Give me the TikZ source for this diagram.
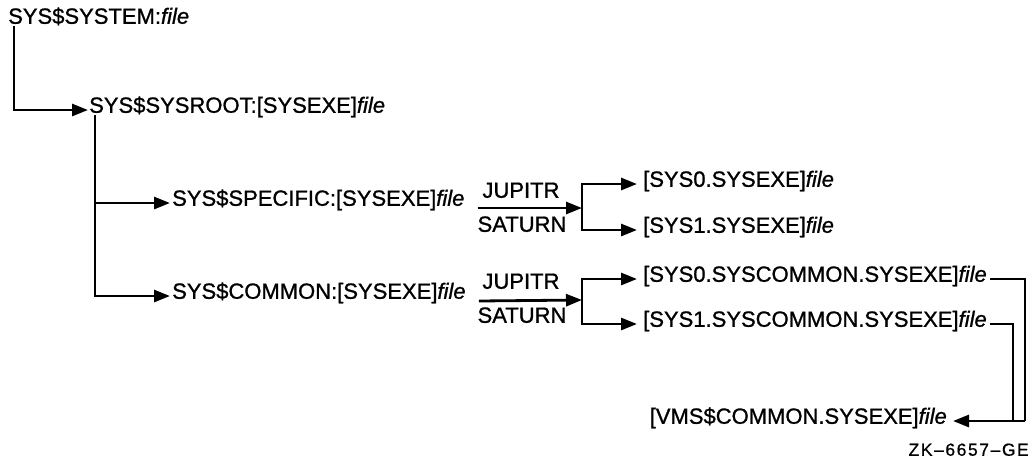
\documentclass[tikz,border=0pt]{standalone}
\usepackage{fontspec}
\setmainfont{Liberation Sans}[FakeBold=1]
\newfontfamily\tagfont{Liberation Sans}[LetterSpace=9,FakeBold=0.6]
\usetikzlibrary{arrows.meta}

\begin{document}
\begin{tikzpicture}[x=1pt,y=-1pt,
  every node/.style={inner sep=0pt, font=\fontsize{22}{26}\selectfont,
                     text height=0.75em, text depth=0.2em},
  wire/.style={line width=2.8pt},
  arr/.style={wire, -{Triangle[length=16pt 0,width=12pt 0]}},
  tag/.style={font=\tagfont\fontsize{17.5}{22}\selectfont}]
\useasboundingbox[fill=white] (0,0) rectangle (1028,467);

% logical names and the directories they translate to
\node[anchor=west] (sys)      at (8,21)    {SYS\$SYSTEM:\textit{file}};
\node[anchor=west] (sysroot)  at (89,110)  {SYS\$SYSROOT:[SYSEXE]\textit{file}};
\node[anchor=west] (specific) at (172,203) {SYS\$SPECIFIC:[SYSEXE]\textit{file}};
\node[anchor=west] (common)   at (172,296) {SYS\$COMMON:[SYSEXE]\textit{file}};

\node[anchor=west] (spec0) at (643,184) {[SYS0.SYSEXE]\textit{file}};
\node[anchor=west] (spec1) at (643,230) {[SYS1.SYSEXE]\textit{file}};
\node[anchor=west] (com0)  at (643,279) {[SYS0.SYSCOMMON.SYSEXE]\textit{file}};
\node[anchor=west] (com1)  at (643,324) {[SYS1.SYSCOMMON.SYSEXE]\textit{file}};
\node[anchor=east] (vms)   at (947,421) {[VMS\$COMMON.SYSEXE]\textit{file}};

% node names on the forks
\node (jup1) at (521,195) {JUPITR};
\node (sat1) at (522,229) {SATURN};
\node (jup2) at (521,286) {JUPITR};
\node (sat2) at (522,320) {SATURN};

\node[tag, anchor=east] (zk) at (1029,453) {ZK{\char"2013}6657{\char"2013}GE};

% helper points
\coordinate (trunkA) at ([xshift=6pt]sys.south west);
\coordinate (trunkB) at ([xshift=6pt]sysroot.south west);
\coordinate (fork1) at (582,208);
\coordinate (fork2) at (582,300);
\coordinate (outer) at (1025,421);
\coordinate (inner) at (1013,421);

% SYS$SYSTEM -> SYS$SYSROOT
\draw[arr, shorten >=1pt] (trunkA) |- (sysroot.west);

% SYS$SYSROOT -> SYS$SPECIFIC and SYS$COMMON
\draw[arr, shorten >=2pt] (trunkB) |- (common.west);
\draw[arr, shorten >=2pt] (trunkB |- specific.west) -- (specific.west);

% SYS$SPECIFIC fork
\draw[arr] ([xshift=13pt,yshift=-5pt]specific.east) -- (fork1);
\draw[arr, shorten >=6pt] (fork1 |- spec1.west) |- (spec0.west);
\draw[arr, shorten >=6pt] (fork1 |- spec0.west) |- (spec1.west);

% SYS$COMMON fork
\draw[arr] ([xshift=13pt,yshift=-5pt]common.east) -- (fork2);
\draw[arr, shorten >=6pt] (fork2 |- com1.west) |- (com0.west);
\draw[arr, shorten >=6pt] (fork2 |- com0.west) |- (com1.west);

% both system common roots lead to VMS$COMMON
\draw[wire] ([xshift=3pt]com0.east) -| (outer);
\draw[wire] ([xshift=3pt]com1.east) -| (inner);
\draw[arr, shorten >=6pt] (outer) -- (vms.east);
\end{tikzpicture}
\end{document}
